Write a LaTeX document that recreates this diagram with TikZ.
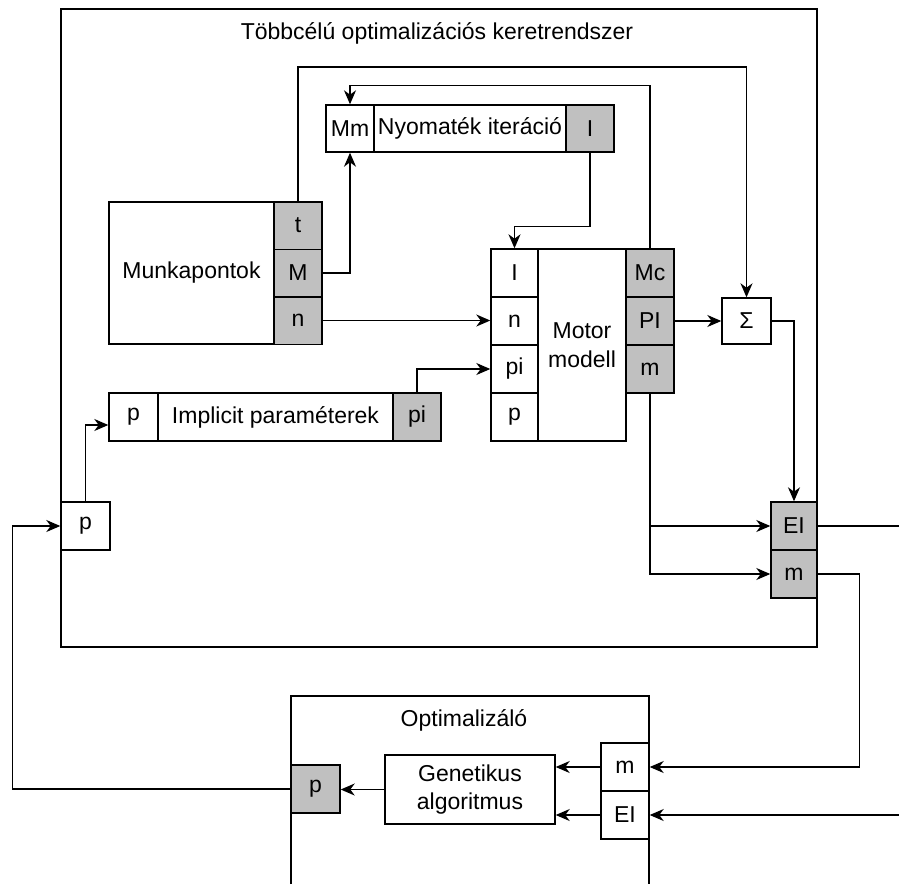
\documentclass[tikz,border=0pt]{standalone}
\usepackage{fontspec}
\setmainfont{Liberation Sans}
\usetikzlibrary{arrows.meta,calc,positioning}
\definecolor{portgray}{RGB}{192,192,192}
\tikzset{
  wbox/.style={draw,fill=white,inner sep=0pt,line width=0.7pt,align=center,
               font=\fontsize{11.5}{14.2}\selectfont},
  gbox/.style={wbox,fill=portgray},
  port/.style={minimum width=24pt,minimum height=24pt},
  ttl/.style={font=\fontsize{11.5}{14.2}\selectfont},
  frame/.style={draw,line width=0.7pt},
  wire/.style={line width=0.7pt},
  arr/.style={-{Stealth[length=7pt,width=6pt,inset=2.2pt]},line width=0.7pt},
}

\begin{document}
\begin{tikzpicture}[x=0.5pt,y=-0.5pt]
  \useasboundingbox (0,0) rectangle (899,884);

  % keretrendszer
  \draw[frame] (61,9) rectangle (817,647);
  \node[ttl] (fwtitle) at (437,33) {Többcélú optimalizációs keretrendszer};

  % nyomatek iteracio
  \node[wbox, port, minimum height=23.5pt] (itmm) at (350,128.5) {Mm};
  \node[wbox, minimum width=96pt, minimum height=23.5pt] (itmain) at (470,128.5) {Nyomaték iteráció};
  \node[gbox, port, minimum height=23.5pt] (iti) at (590,128.5) {I};

  % munkapontok
  \node[wbox, minimum width=82.5pt, minimum height=71pt] (wpmain) at (191.5,273) {Munkapontok};
  \node[gbox, port, minimum height=23.7pt] (wpt) at (298,225.5) {t};
  \node[gbox, port, minimum height=23.7pt] (wpm) at (298,273) {M};
  \node[gbox, port, minimum height=23.7pt] (wpn) at (298,320.5) {n};

  % implicit parameterek
  \node[wbox, port, minimum width=24.5pt] (imp) at (133.5,417) {p};
  \node[wbox, minimum width=117.5pt, minimum height=24pt] (immain) at (275.5,417) {Implicit paraméterek};
  \node[gbox, port] (impi) at (417,417) {pi};

  % motor modell
  \node[wbox, port, minimum width=23.5pt] (mmi) at (514.5,273) {I};
  \node[wbox, port, minimum width=23.5pt] (mmn) at (514.5,321) {n};
  \node[wbox, port, minimum width=23.5pt] (mmpi) at (514.5,369) {pi};
  \node[wbox, port, minimum width=23.5pt] (mmp) at (514.5,417) {p};
  \node[wbox, minimum width=44pt, minimum height=96pt] (mmmain) at (582,345) {Motor\\modell};
  \node[gbox, port] (mmmc) at (650,273) {Mc};
  \node[gbox, port] (mmpl) at (650,321) {PI};
  \node[gbox, port] (mmm) at (650,369) {m};

  % osszegzo es kimenetek
  \node[wbox, minimum width=24.5pt, minimum height=23pt] (sum) at (746.5,321) {Σ};
  \node[gbox, minimum width=23pt, minimum height=24pt] (outel) at (794,526) {EI};
  \node[gbox, minimum width=23pt, minimum height=24pt] (outm) at (794,574) {m};
  \node[wbox, port, minimum width=24.5pt] (inp) at (85.5,526) {p};

  % optimalizalo
  \draw[frame] (291,884) -- (291,696) -- (649,696) -- (649,884);
  \node[ttl] (opttitle) at (464,720) {Optimalizáló};
  \node[gbox, port, minimum width=24.5pt] (optp) at (315.5,789) {p};
  \node[wbox, minimum width=85pt, minimum height=34.5pt] (ga) at (470,789.5) {Genetikus\\algoritmus};
  \node[wbox, port] (optm) at (625,767) {m};
  \node[wbox, port] (optel) at (625,815) {EI};

  \coordinate (exitel) at (899,526);
  \coordinate (entel) at (899,815);

  \draw[arr] (wpt.north) -- ++(0,-134) -| (sum.north);
  \draw[arr] (wpm.east) -| (itmm.south);
  \draw[arr] (mmmc.north) -- ++(0,-163) -| (itmm.north);
  \draw[arr] (iti.south) -- ++(0,74) -| (mmi.north);
  \draw[arr] (wpn.east) -- (wpn.east -| mmn.west);
  \draw[arr] (impi.north) |- (mmpi.west);
  \draw[arr] (mmpl.east) -- (sum.west);
  \draw[arr] (sum.east) -| (outel.north);
  \draw[arr] (mmm.south) |- (outel.west);
  \draw[arr] (mmm.south) |- (outm.west);
  \draw[wire] (outel.east) -- (exitel);
  \draw[arr] (entel) -- (optel.east);
  \draw[arr] (outm.east) -- ++(42,0) |- (optm.east);
  \draw[arr] (optm.west) -- (optm.west -| ga.east);
  \draw[arr] (optel.west) -- (optel.west -| ga.east);
  \draw[arr] (ga.west) -- (ga.west -| optp.east);
  \draw[arr] (optp.west) -- ++(-278,0) |- (inp.west);
  \draw[arr] (inp.north) |- ($(imp.west)+(0,8)$);
\end{tikzpicture}
\end{document}
